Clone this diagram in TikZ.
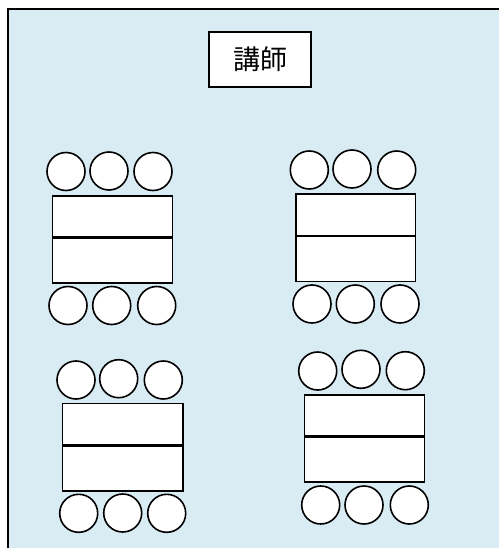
\documentclass[tikz,border=0pt]{standalone}
\usepackage{fontspec}
\newfontfamily\jpfont{Noto Sans CJK JP}
\definecolor{roombg}{RGB}{218,236,243}
\begin{document}
\begin{tikzpicture}[x=1pt,y=-1pt,
  seat/.style={circle,draw=black,line width=1.6pt,fill=white,minimum size=38pt,inner sep=0pt},
  half/.style={rectangle,draw=black,line width=1.7pt,fill=white,inner sep=0pt,anchor=north west},
  midline/.style={draw=black,line width=2.2pt},
  teacher/.style={rectangle,draw=black,line width=1.4pt,fill=white,inner sep=0pt,minimum width=102pt,minimum height=55pt,font=\jpfont\fontsize{27}{30}\selectfont}]
\useasboundingbox (0,0) rectangle (499,548);
\fill[white] (0,0) rectangle (499,548);
\fill[roombg] (8,9) rectangle (499,548);
\draw[line width=2.4pt] (8,548) -- (8,9) -- (499,9);
\node[teacher] (t) at (260,59.5) {講師};
% group 1
\node[seat] (a1) at (66,171.5) {};
\node[seat] (a2) at (109,171) {};
\node[seat] (a3) at (153,171.5) {};
\node[half,minimum width=120pt,minimum height=41pt] (ta1) at (51.5,195) {};
\node[half,minimum width=120pt,minimum height=46pt] (ta2) at (51.5,236) {};
\draw[midline] (ta1.south west) -- (ta1.south east);
\node[seat] (a4) at (68,305.5) {};
\node[seat] (a5) at (111.7,305.5) {};
\node[seat] (a6) at (156.7,305.5) {};
% group 2
\node[seat] (b1) at (309.3,170) {};
\node[seat] (b2) at (352,169) {};
\node[seat] (b3) at (396.7,170) {};
\node[half,minimum width=119.5pt,minimum height=41.5pt] (tb1) at (295,193) {};
\node[half,minimum width=119.5pt,minimum height=46pt] (tb2) at (295,234.5) {};
\draw[midline] (tb1.south west) -- (tb1.south east);
\node[seat] (b4) at (312,304) {};
\node[seat] (b5) at (355.3,304) {};
\node[seat] (b6) at (400,304) {};
% group 3
\node[seat] (c1) at (76,380) {};
\node[seat] (c2) at (118.7,378.7) {};
\node[seat] (c3) at (163.3,380) {};
\node[half,minimum width=120.5pt,minimum height=41.5pt] (tc1) at (61.5,402.5) {};
\node[half,minimum width=120.5pt,minimum height=46pt] (tc2) at (61.5,444) {};
\draw[midline] (tc1.south west) -- (tc1.south east);
\node[seat] (c4) at (78.7,513.3) {};
\node[seat] (c5) at (122.7,513) {};
\node[seat] (c6) at (166.7,513.3) {};
% group 4
\node[seat] (d1) at (317.7,371) {};
\node[seat] (d2) at (361,369.3) {};
\node[seat] (d3) at (405.3,370.7) {};
\node[half,minimum width=120pt,minimum height=41pt] (td1) at (303.5,394) {};
\node[half,minimum width=120pt,minimum height=46pt] (td2) at (303.5,435) {};
\draw[midline] (td1.south west) -- (td1.south east);
\node[seat] (d4) at (320.7,505) {};
\node[seat] (d5) at (364,505) {};
\node[seat] (d6) at (409.3,505) {};
\end{tikzpicture}
\end{document}
